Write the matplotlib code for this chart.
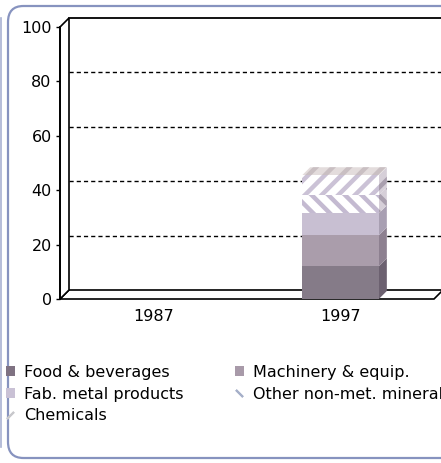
import matplotlib
matplotlib.use("Agg")
import matplotlib.pyplot as plt
from matplotlib.patches import Polygon, FancyBboxPatch, Patch
from matplotlib.lines import Line2D
from matplotlib.transforms import offset_copy

# ---------------- data ----------------
years = ["1987", "1997"]
series = ["Food & beverages", "Machinery & equip.", "Fab. metal products",
          "Other non-met. minerals", "Chemicals"]
food = [0, 12.0]
machinery = [0, 11.4]
fab_metal = [0, 8.1]
other_nonmet = [0, 6.6]
chemicals = [0, 7.4]
yticks = [0, 20, 40, 60, 80, 100]

values = [food, machinery, fab_metal, other_nonmet, chemicals]
front_colors = ["#857b88", "#aa9dab", "#c8bfd2", "white", "white"]
side_colors = ["#6c6170", "#8d8090", "#a89fb2", "#d6cfd8", "#d6cfd8"]
hatches = [None, None, None, "\\\\", "//"]
hatch_colors = [None, None, None, "#c4bad1", "#cbc2d6"]

plt.rcParams["font.family"] = "DejaVu Sans"
plt.rcParams["hatch.linewidth"] = 3.2

W, H, DPI = 441, 463, 100
fig = plt.figure(figsize=(W / DPI, H / DPI), dpi=DPI)
fig.patch.set_facecolor("white")

# outer frame
frame = FancyBboxPatch((8 / W, 5 / H), 450 / W, 452 / H,
                       boxstyle="round,pad=0,rounding_size=0.035",
                       transform=fig.transFigure, facecolor="none",
                       edgecolor="#8793bf", linewidth=1.6)
fig.patches.append(frame)
fig.lines.append(Line2D([1 / W, 1 / W], [16 / H, 1 - 18 / H], transform=fig.transFigure,
                        color="#a9b2d2", linewidth=1.2))

# axes (front plane)
ax_l, ax_b, ax_w, ax_h = 60, 164, 374, 272
ax = fig.add_axes([ax_l / W, ax_b / H, ax_w / W, ax_h / H])
ax.set_facecolor("none")
xlim = (-0.5, 1.5)
ax.set_xlim(*xlim)
ax.set_ylim(0, 100)
for s in ["top", "right", "bottom"]:
    ax.spines[s].set_visible(False)
ax.spines["left"].set_color("black")
ax.spines["left"].set_linewidth(1.3)
ax.spines["left"].set_zorder(6)

DX, DY = 9, 9  # wall depth in pixels
dxa, dya = DX / ax_w, DY / ax_h
back = offset_copy(ax.transAxes, fig=fig, x=DX, y=DY, units="dots")
back_y = offset_copy(ax.get_yaxis_transform(), fig=fig, x=DX, y=DY, units="dots")

# floor
floor = Polygon([(0, 0), (1, 0), (1 + dxa, dya), (dxa, dya)], closed=True,
                transform=ax.transAxes, facecolor="white", edgecolor="black",
                linewidth=1.2, zorder=1, clip_on=False)
ax.add_patch(floor)
# left wall
lwall = Polygon([(0, 0), (dxa, dya), (dxa, 1 + dya), (0, 1)], closed=True,
                transform=ax.transAxes, facecolor="white", edgecolor="black",
                linewidth=1.2, zorder=1, clip_on=False)
ax.add_patch(lwall)
# back wall edges
ax.add_line(Line2D([0, 1], [1, 1], transform=back, color="black", lw=1.3, clip_on=False, zorder=2))
ax.add_line(Line2D([1, 1], [0, 1], transform=back, color="#9a9a9a", lw=1.0, clip_on=False, zorder=2))

# gridlines on back wall
for v in yticks[1:-1]:
    ax.add_line(Line2D([0, 1], [v, v], transform=back_y, color="black", lw=1.0,
                       linestyle=(0, (3.0, 2.2)), clip_on=False, zorder=2))

ax.set_yticks(yticks)
ax.set_yticklabels([str(t) for t in yticks])
ax.tick_params(axis="y", length=3, width=1.0, pad=3, labelsize=11.5, colors="black")
ax.set_xticks(range(len(years)))
ax.set_xticklabels(years)
ax.tick_params(axis="x", length=0, pad=7.5, labelsize=11.5)

# bars
bw = 0.41
BD = 8  # bar depth px
ddx = BD / ax_w * (xlim[1] - xlim[0])
ddy = BD / ax_h * 100
for i in range(len(years)):
    bottom = 0.0
    top_idx = None
    for k, vals in enumerate(values):
        v = vals[i]
        if v <= 0:
            continue
        top_idx = k
        y0, y1 = bottom, bottom + v
        ax.bar(i, v, bottom=y0, width=bw, color=front_colors[k], hatch=hatches[k],
               edgecolor=hatch_colors[k] if hatches[k] else front_colors[k],
               linewidth=0, zorder=4)
        xr = i + bw / 2
        side = Polygon([(xr, y0), (xr + ddx, y0 + ddy), (xr + ddx, y1 + ddy), (xr, y1)],
                       closed=True, facecolor=side_colors[k], hatch=hatches[k],
                       edgecolor="#a99fae" if hatches[k] else side_colors[k],
                       linewidth=0, zorder=3, clip_on=False)
        ax.add_patch(side)
        bottom = y1
    if top_idx is not None:
        xl, xr = i - bw / 2, i + bw / 2
        topf = Polygon([(xl, bottom), (xr, bottom), (xr + ddx, bottom + ddy), (xl + ddx, bottom + ddy)],
                       closed=True, facecolor="#e3dcdc", hatch="//", edgecolor="#c9bfc2",
                       linewidth=0, zorder=3, clip_on=False)
        ax.add_patch(topf)

# legend (column-major: col1 = Food, Fab, Chemicals; col2 = Machinery, Other)
h_food = Patch(facecolor="#7f7282", edgecolor="none")
h_mach = Patch(facecolor="#a89aa9", edgecolor="none")
h_fab = Patch(facecolor="#c9c1d5", edgecolor="none")
h_other = Line2D([], [], marker=(2, 2, 45), color="#a6b0c9", markersize=7, linestyle="none", mew=1.5)
h_chem = Line2D([], [], marker=(2, 2, -45), color="#c8c8cc", markersize=7, linestyle="none", mew=1.5)
handles = [h_food, h_fab, h_chem, h_mach, h_other]
labels = [series[0], series[2], series[4], series[1], series[3]]
fig.legend(handles, labels, ncol=2, loc="upper left",
           bbox_to_anchor=(6 / W, 1 - 365 / H), frameon=False, fontsize=11.5,
           handlelength=0.55, handleheight=0.6, handletextpad=0.6,
           columnspacing=3.2, labelspacing=0.42, borderpad=0, borderaxespad=0)

fig.savefig("out.png", dpi=DPI)
